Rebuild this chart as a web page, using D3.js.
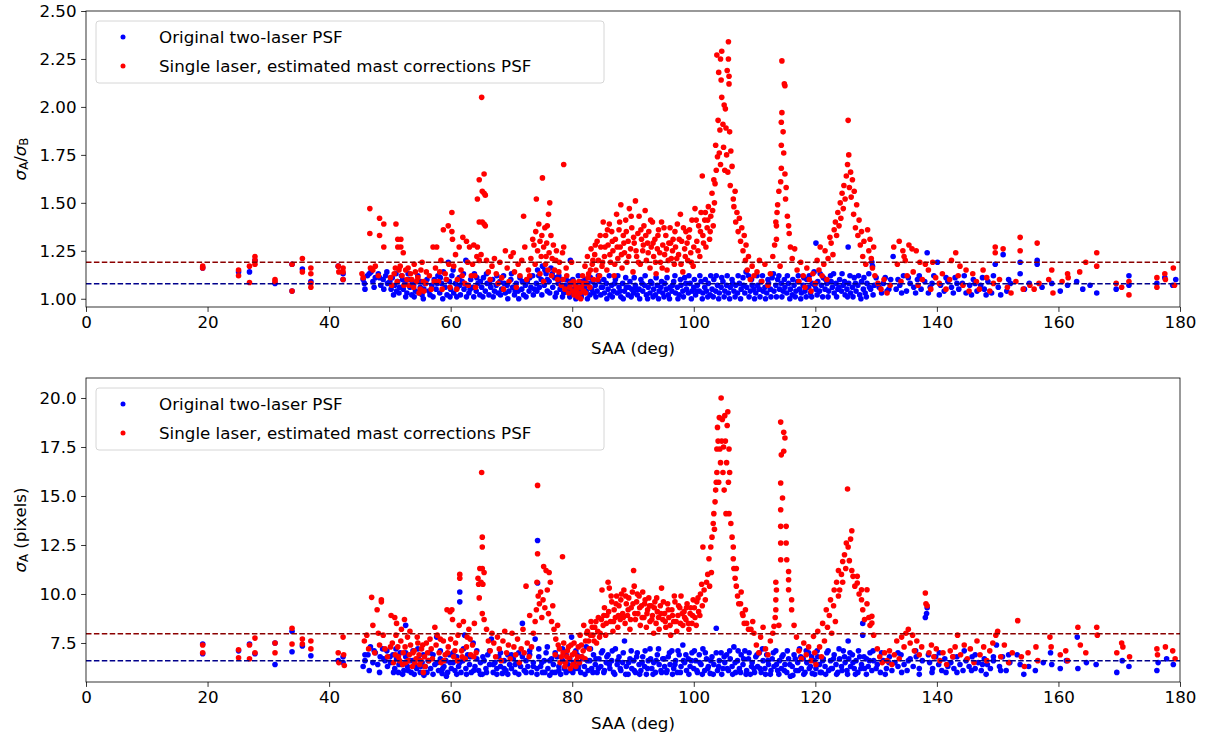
<!DOCTYPE html>
<html>
<head>
<meta charset="utf-8">
<script src="https://cdn.jsdelivr.net/npm/d3@7"></script>
<style>
  body { margin: 0; background: #fff; }
  text { font-family: "DejaVu Sans", sans-serif; fill: #000; }
</style>
</head>
<body>
<div id="chart"></div>
<script>
// [SAA, sigma_A/sigma_B] for the original two-laser PSF
var ratioOrig = [
  [19.2,1.16],[25.1,1.14],[26.9,1.14],[27.8,1.20],[31.1,1.08],[33.9,1.18],[33.9,1.04],[35.6,1.155],[37.0,1.09],[41.5,1.17],[42.3,1.13],[42.3,1.10],
  [45.6,1.10],[45.8,1.08],[46.3,1.12],[46.9,1.14],[47.2,1.09],[47.6,1.11],[48.1,1.13],[48.5,1.07],[48.9,1.10],[49.3,1.12],[49.6,1.08],
  [45.9,1.05],[46.6,1.13],[47.4,1.06],[48.3,1.11],[49.0,1.05],[49.5,1.14],
  [50.2,1.05],[50.4,1.11],[50.8,1.07],[51.1,1.04],[51.3,1.09],[51.6,1.06],[51.9,1.12],[52.2,1.05],[52.5,1.08],[52.8,1.03],[53.1,1.10],[53.3,1.06],[53.6,1.02],[53.9,1.07],[54.2,1.04],[54.5,1.09],[54.8,1.03],[55.0,1.06],[55.3,1.02],[55.6,1.05],[55.8,1.08],
  [56.4,1.04],[56.9,1.07],[57.3,1.10],[57.6,1.05],[57.9,1.12],[58.2,1.03],[58.5,1.08],[58.8,1.14],[59.1,1.06],[59.4,1.02],[59.6,1.19],[59.8,1.09],[60.0,1.05],[60.2,1.12],
  [60.5,1.03],[60.8,1.08],[61.1,1.06],[61.4,1.11],[61.6,1.02],[61.9,1.09],[62.2,1.05],[62.5,1.20],[62.7,1.07],[63.0,1.03],[63.3,1.10],[63.6,1.06],[63.9,1.13],[64.2,1.04],[64.5,1.08],[64.8,1.02],[65.1,1.06],
  [65.4,1.11],[65.7,1.04],[66.0,1.08],[66.3,1.02],[66.6,1.06],[66.9,1.10],[67.2,1.04],[67.5,1.07],[67.8,1.03],[68.1,1.09],[68.4,1.05],[68.7,1.12],[69.0,1.03],[69.3,1.07],[69.6,1.04],[69.9,1.10],
  [70.2,1.06],[70.5,1.02],[70.8,1.08],[71.1,1.04],[71.4,1.11],[71.7,1.05],[72.0,1.02],[72.3,1.07],[72.6,1.09],[72.9,1.04],[73.2,1.06],[73.5,1.12],[73.8,1.05],[74.1,1.08],[74.3,1.15],[74.6,1.06],[74.9,1.10],[75.1,1.17],[75.4,1.07],[75.7,1.13],[75.9,1.04],[76.2,1.09],[76.5,1.16],[76.8,1.06],[77.1,1.11],
  [77.4,1.03],[77.7,1.08],[78.0,1.05],[78.3,1.10],[78.6,1.03],[78.9,1.07],[79.2,1.04],[79.5,1.09],[79.7,1.20],[79.9,1.05],
  [80.2,1.03],[80.5,1.07],[80.8,1.02],[81.1,1.05],[81.4,1.09],[81.7,1.03],[82.0,1.06],[82.3,1.04],[82.6,1.08],[82.9,1.02],[83.2,1.05],[83.5,1.03],[83.8,1.07],[84.1,1.04],[84.4,1.09],[84.7,1.02],[85.0,1.06],
  [85.3,1.03],[85.6,1.08],[85.9,1.05],[86.2,1.02],[86.5,1.07],[86.8,1.04],[87.1,1.10],[87.4,1.03],[87.7,1.06],[88.0,1.01],[88.3,1.08],[88.6,1.04],[88.9,1.06],[89.2,1.02],[89.5,1.09],[89.8,1.05],
  [90.1,1.03],[90.4,1.07],[90.7,1.02],[91.0,1.05],[91.3,1.10],[91.6,1.04],[91.9,1.07],[92.2,1.02],[92.5,1.06],[92.8,1.03],[93.1,1.08],[93.4,1.05],[93.7,1.02],[94.0,1.07],[94.3,1.04],[94.6,1.06],[94.9,1.03],
  [95.2,1.08],[95.5,1.05],[95.8,1.02],[96.1,1.06],[96.4,1.04],[96.7,1.09],[97.0,1.03],[97.3,1.06],[97.6,1.02],[97.9,1.07],[98.2,1.04],[98.5,1.11],[98.8,1.05],[99.1,1.03],[99.4,1.08],[99.7,1.04],
  [100.0,1.06],[100.3,1.02],[100.6,1.07],[100.9,1.04],[101.2,1.09],[101.5,1.03],[101.8,1.06],[102.1,1.04],[102.4,1.08],[102.7,1.02],[103.0,1.05],[103.3,1.10],[103.6,1.04],[103.9,1.07],[104.2,1.03],[104.5,1.06],[104.8,1.09],
  [105.1,1.04],[105.4,1.07],[105.7,1.03],[106.0,1.06],[106.3,1.10],[106.6,1.04],[106.9,1.07],[107.2,1.03],[107.5,1.08],[107.8,1.05],[108.1,1.11],[108.4,1.03],[108.7,1.06],[109.0,1.12],[109.3,1.04],[109.6,1.07],[109.9,1.05],
  [110.2,1.03],[110.5,1.07],[110.8,1.05],[111.1,1.09],[111.4,1.04],[111.7,1.06],[112.0,1.03],[112.3,1.08],[112.6,1.05],[112.9,1.11],[113.2,1.04],[113.5,1.07],[113.8,1.10],[114.1,1.05],[114.4,1.08],[114.7,1.04],
  [115.0,1.06],[115.3,1.03],[115.6,1.08],[115.9,1.05],[116.2,1.02],[116.5,1.07],[116.8,1.04],[117.1,1.09],[117.4,1.05],[117.7,1.03],[118.0,1.07],[118.3,1.04],[118.6,1.10],[118.9,1.06],[119.2,1.03],[119.5,1.08],[119.8,1.14],
  [120.1,1.05],[120.1,1.29],[120.4,1.09],[120.7,1.04],[121.0,1.07],[121.3,1.11],[121.6,1.05],[121.9,1.08],[122.2,1.04],[122.5,1.12],[122.8,1.06],[123.1,1.03],[123.4,1.08],[123.7,1.05],[124.0,1.10],[124.3,1.04],[124.6,1.07],[124.9,1.02],
  [125.2,1.05],[125.4,1.27],[125.5,1.08],[125.8,1.03],[126.1,1.06],[126.4,1.11],[126.7,1.04],[127.0,1.07],[127.3,1.02],[127.6,1.09],[127.9,1.05],[128.2,1.03],[128.5,1.08],[128.8,1.13],[129.1,1.05],[129.3,1.19],[129.4,1.17],[129.7,1.07],
  [50.0,1.09],[50.6,1.02],[51.0,1.13],[51.5,1.03],[52.1,1.10],[52.6,1.01],[53.0,1.13],[53.7,1.09],[54.0,1.01],[54.6,1.12],[55.1,1.09],[55.5,1.00],[56.1,1.10],[56.6,1.02],[57.1,1.01],[57.8,1.08],
  [58.3,1.11],[58.7,1.00],[59.3,1.10],[59.9,1.01],[60.4,1.15],[61.0,1.01],[61.5,1.07],[62.1,1.13],[62.6,1.01],[63.2,1.05],[63.8,1.01],[64.3,1.11],[64.9,1.09],[65.3,1.01],[65.9,1.13],[66.4,1.08],
  [67.0,1.01],[67.6,1.12],[68.2,1.02],[68.8,1.08],[69.4,1.00],[70.0,1.13],[70.6,1.04],[71.2,1.00],[71.8,1.09],[72.4,1.01],[73.0,1.11],[73.6,1.02],[74.2,1.04],[74.5,1.12],[75.0,1.02],[75.5,1.15],
  [75.9,1.10],[76.3,1.03],[76.7,1.13],[77.2,1.01],[77.8,1.12],[78.4,1.01],[79.0,1.10],[79.6,1.01],
  [80.1,1.10],[80.6,1.00],[81.0,1.12],[81.5,1.01],[82.1,1.10],[82.5,1.00],[83.0,1.11],[83.4,1.09],[83.9,1.01],[84.3,1.12],[84.8,1.06],[85.2,1.10],[85.7,1.00],[86.1,1.12],[86.6,1.01],[87.0,1.08],
  [87.5,1.12],[87.9,1.04],[88.4,1.00],[88.8,1.11],[89.3,1.06],[89.7,1.01],[90.2,1.11],[90.6,1.05],[91.1,1.00],[91.5,1.08],[92.0,1.12],[92.4,1.00],[92.9,1.09],[93.3,1.01],[93.8,1.11],[94.2,1.00],
  [94.7,1.09],[95.1,1.01],[95.6,1.11],[96.0,1.00],[96.5,1.07],[96.9,1.12],[97.4,1.00],[97.8,1.10],[98.3,1.01],[98.7,1.08],[99.2,1.12],[99.6,1.00],[100.1,1.10],[100.5,1.04],[101.0,1.12],[101.4,1.00],
  [101.9,1.10],[102.3,1.01],[102.8,1.12],[103.2,1.01],[103.7,1.12],[104.1,1.00],[104.6,1.11],[105.0,1.01],[105.5,1.12],[105.9,1.00],[106.4,1.08],[106.8,1.01],[107.3,1.12],[107.7,1.00],[108.2,1.07],
  [108.6,1.14],[109.1,1.01],[109.5,1.10],[110.0,1.00],[110.4,1.12],[110.9,1.01],[111.3,1.12],[111.8,1.00],[112.2,1.10],[112.7,1.01],[113.1,1.13],[113.6,1.01],[114.0,1.12],[114.5,1.01],[114.9,1.10],
  [115.4,1.12],[115.8,1.00],[116.3,1.10],[116.7,1.01],[117.2,1.12],[117.6,1.00],[118.1,1.11],[118.5,1.01],[119.0,1.12],[119.4,1.01],[119.9,1.07],[120.3,1.02],[120.8,1.13],[121.2,1.01],[121.7,1.10],
  [122.1,1.01],[122.6,1.09],[123.0,1.13],[123.5,1.01],[123.9,1.06],[124.4,1.13],[124.8,1.09],[125.3,1.01],[125.7,1.12],[126.2,1.01],[126.6,1.08],[127.1,1.12],[127.5,1.00],[128.0,1.11],[128.4,1.01],
  [128.9,1.06],[129.5,1.02],[130.0,1.11],
  [130.5,1.06],[131.2,1.08],[131.8,1.04],[132.4,1.10],[132.8,1.22],[133.3,1.05],[133.9,1.07],[134.5,1.12],[135.0,1.04],[135.6,1.08],[136.2,1.06],[136.8,1.10],[137.4,1.05],[138.0,1.09],[138.4,1.24],[138.9,1.06],[139.5,1.12],[140.1,1.19],
  [140.6,1.07],[141.2,1.04],[141.8,1.09],[142.4,1.06],[143.0,1.11],[143.6,1.05],[144.2,1.08],[144.8,1.03],[145.4,1.07],[146.0,1.10],[146.6,1.04],[147.2,1.07],[147.8,1.05],[148.4,1.09],[149.0,1.03],[149.6,1.18],[150.1,1.06],[150.9,1.23],
  [130.9,1.03],[131.5,1.11],[132.1,1.05],[133.6,1.10],[134.2,1.03],[135.3,1.11],[136.5,1.03],[137.1,1.12],[138.6,1.03],[139.2,1.08],[140.4,1.02],[141.5,1.11],[142.7,1.03],[143.3,1.08],[144.5,1.12],
  [145.7,1.02],[146.3,1.08],[147.5,1.11],[148.1,1.02],[149.3,1.12],[150.5,1.02],[151.8,1.10],
  [151.5,1.04],[152.1,1.08],[153.7,1.19],[153.7,1.13],[154.4,1.05],[155.2,1.08],[156.5,1.20],[156.5,1.18],[157.3,1.06],[158.9,1.08],[160.3,1.04],[161.5,1.07],[163.0,1.09],[164.0,1.05],[165.2,1.07],[166.3,1.03],
  [169.5,1.05],[171.6,1.12],[171.6,1.07],[176.2,1.08],[177.5,1.11],[178.8,1.07],[179.3,1.10]
];

// [SAA, sigma_A/sigma_B] for the single laser, estimated mast corrections PSF
var ratioSingle = [
  [19.2,1.17],[19.2,1.16],[25.1,1.15],[25.1,1.12],[26.9,1.17],[26.9,1.085],[27.8,1.22],[27.8,1.20],[27.8,1.18],[31.1,1.10],[31.1,1.09],[33.9,1.18],[33.9,1.04],
  [35.6,1.21],[35.6,1.14],[37.0,1.16],[37.0,1.13],[37.0,1.08],[37.0,1.06],[41.5,1.17],[41.6,1.14],[42.3,1.16],[42.3,1.14],[42.3,1.10],
  [46.7,1.47],[46.7,1.34],[48.3,1.42],[48.3,1.33],[49.0,1.39],[49.0,1.27],[51.0,1.39],[51.3,1.31],[51.8,1.31],[51.3,1.27],[51.8,1.27],[52.2,1.24],
  [45.4,1.13],[45.6,1.11],[46.8,1.16],[47.2,1.15],[47.6,1.17],[48.1,1.12],[50.1,1.11],[50.9,1.16],[51.7,1.17],[52.0,1.12],[52.6,1.15],[52.8,1.10],[53.1,1.07],
  [53.4,1.13],[53.9,1.06],[54.2,1.14],[54.4,1.09],[54.8,1.03],[55.0,1.05],[55.3,1.19],[55.6,1.04],[55.9,1.08],
  [50.3,1.07],[50.7,1.13],[51.2,1.09],[51.5,1.15],[52.3,1.07],[53.0,1.16],[53.6,1.10],[54.0,1.18],[54.6,1.11],[55.1,1.15],[55.5,1.09],[56.0,1.14],[56.8,1.05],[57.3,1.09],[58.2,1.14],
  [58.6,1.05],[59.3,1.10],[59.7,1.18],[61.0,1.05],[61.9,1.12],[62.9,1.07],[63.6,1.18],[64.0,1.12],
  [56.5,1.12],[57.1,1.27],[57.5,1.16],[57.7,1.27],[58.0,1.09],[58.4,1.20],[58.8,1.36],[59.1,1.13],[59.6,1.38],[59.9,1.06],[60.2,1.45],[60.2,1.35],[60.3,1.31],
  [60.5,1.17],[60.8,1.23],[61.1,1.10],[61.4,1.27],[61.7,1.15],[62.0,1.32],[62.3,1.08],[62.6,1.30],[62.8,1.19],[63.1,1.27],[63.4,1.12],[63.8,1.28],[64.1,1.06],[64.4,1.52],[64.3,1.22],[64.7,1.20],
  [64.7,1.62],[65.5,1.65],[65.1,2.05],[65.2,1.56],[65.7,1.54],[65.5,1.55],[64.7,1.40],[65.2,1.40],[65.7,1.38],[65.5,1.39],[64.4,1.27],[65.0,1.23],[65.9,1.20],[66.2,1.14],[66.5,1.10],[66.8,1.17],
  [67.2,1.21],[67.5,1.13],[67.8,1.08],[68.1,1.19],[68.4,1.11],[68.7,1.05],[69.0,1.25],[69.3,1.16],[69.6,1.09],[69.9,1.22],[70.3,1.24],[70.5,1.14],[70.8,1.06],[71.1,1.18],[71.4,1.12],[71.7,1.20],
  [72.0,1.43],[72.2,1.27],[72.5,1.10],[72.8,1.15],
  [73.2,1.21],[73.5,1.31],[73.7,1.28],[74.0,1.35],[74.1,1.52],[74.3,1.25],[74.5,1.39],[74.7,1.30],[74.9,1.22],[75.1,1.63],[75.0,1.33],[75.3,1.27],[75.5,1.37],[75.6,1.18],[75.9,1.38],[75.8,1.29],
  [76.1,1.44],[76.3,1.50],[76.2,1.24],[76.5,1.33],[76.7,1.21],[76.9,1.28],[77.1,1.15],[77.4,1.25],[77.6,1.10],[77.9,1.19],[78.2,1.07],[78.4,1.24],[78.6,1.70],[78.6,1.27],[78.8,1.05],[79.1,1.12],
  [79.4,1.03],[79.7,1.08],[79.9,1.19],
  [73.0,1.12],[73.9,1.18],[74.7,1.13],[75.3,1.09],[75.7,1.22],[76.0,1.15],[76.6,1.12],[77.3,1.20],[77.8,1.14],[78.5,1.10],[79.0,1.16],[79.6,1.06],
  [80.1,1.04],[80.3,1.02],[80.5,1.07],[80.7,1.05],[80.9,1.01],[81.1,1.09],[81.3,1.03],[81.5,1.06],[81.7,1.12],[81.9,1.04],[82.1,1.17],[82.3,1.08],[82.5,1.22],[82.7,1.13],[82.9,1.06],[83.1,1.26],
  [83.3,1.18],[83.5,1.10],[83.7,1.23],[83.9,1.15],[84.1,1.30],[84.3,1.20],[84.5,1.12],[84.7,1.27],[84.9,1.17],
  [80.2,1.09],[80.6,1.03],[81.0,1.06],[81.4,1.00],[81.8,1.08],[82.2,1.03],[82.6,1.11],[83.0,1.15],[83.4,1.20],[83.8,1.28],[84.2,1.10],[84.6,1.33],[85.0,1.19],[85.4,1.27],[85.8,1.36],[86.2,1.23],
  [86.6,1.30],[87.0,1.18],[87.4,1.27],[87.8,1.40],[88.1,1.23],[88.5,1.29],[88.9,1.35],[89.3,1.22],[89.7,1.43],[90.1,1.32],[90.5,1.25],[90.9,1.19],[91.3,1.36],[91.7,1.28],[92.1,1.33],[92.5,1.24],
  [92.9,1.41],[93.3,1.29],[93.7,1.19],[94.1,1.33],[94.4,1.24],[94.8,1.16],[95.1,1.37],[95.5,1.26],[95.8,1.20],[96.2,1.29],[96.5,1.25],[96.9,1.35],[97.2,1.21],[97.6,1.31],[97.9,1.18],[98.3,1.37],
  [98.6,1.22],[98.9,1.29],[99.3,1.36],[99.6,1.19],[100.0,1.27],[100.4,1.41],[100.7,1.25],[101.1,1.35],[101.6,1.29],[101.9,1.45],[102.3,1.41],[102.7,1.35],[103.1,1.46],[103.3,1.62],
  [85.1,1.40],[85.3,1.22],[85.5,1.33],[85.7,1.15],[85.9,1.28],[86.1,1.39],[86.3,1.19],[86.5,1.35],[86.7,1.25],[86.9,1.12],[87.1,1.31],[87.3,1.44],[87.5,1.21],[87.7,1.36],[87.9,1.27],[88.0,1.49],
  [88.2,1.16],[88.4,1.33],[88.6,1.24],[88.8,1.41],[89.0,1.19],[89.2,1.30],[89.4,1.47],[89.6,1.26],[89.8,1.37],[90.0,1.14],[90.2,1.29],[90.4,1.51],[90.6,1.22],[90.8,1.34],[91.0,1.43],[91.2,1.18],
  [91.4,1.31],[91.6,1.25],[91.8,1.38],[92.0,1.46],[92.2,1.20],[92.4,1.29],[92.6,1.35],[92.8,1.16],[93.0,1.27],[93.2,1.40],[93.4,1.22],[93.6,1.31],[93.8,1.13],[94.0,1.26],[94.2,1.36],[94.5,1.19],
  [94.7,1.40],[94.9,1.28],[95.2,1.23],[95.4,1.33],[95.6,1.15],[95.9,1.29],[96.1,1.37],[96.3,1.21],[96.6,1.31],[96.8,1.18],[97.0,1.27],[97.3,1.39],[97.5,1.23],[97.8,1.44],[98.0,1.30],[98.2,1.14],
  [98.5,1.26],[98.7,1.35],[99.0,1.20],[99.2,1.32],[99.5,1.24],[99.7,1.41],[99.9,1.17],
  [100.2,1.47],[100.5,1.30],[100.8,1.38],[101.0,1.22],[101.2,1.45],[101.4,1.64],[101.5,1.33],[101.8,1.41],[102.0,1.27],[102.2,1.37],[102.4,1.48],[102.6,1.31],[102.8,1.43],[103.0,1.55],[103.2,1.38],
  [103.4,1.50],[103.5,1.60],[103.6,1.80],[103.7,1.67],[103.8,2.27],[103.9,1.74],[104.0,1.93],[104.1,2.18],[104.2,1.76],[104.3,1.88],[104.4,1.70],[104.4,2.25],[104.5,2.14],[104.6,2.29],[104.6,2.05],
  [104.8,1.91],[104.9,1.79],[105.0,2.01],[105.1,1.67],[105.2,1.99],[105.3,1.89],[105.4,1.75],[105.5,2.19],[105.6,1.66],[105.7,2.34],[105.7,2.25],[105.8,2.16],[105.8,2.12],[105.9,1.87],[106.0,1.59],
  [106.1,1.77],[106.3,1.69],[106.5,1.52],[106.6,1.48],[106.8,1.56],[106.9,1.40],[107.1,1.45],[107.3,1.35],[107.5,1.42],[107.7,1.30],[107.9,1.37],[108.1,1.25],[108.3,1.33],[108.5,1.20],[108.6,1.28],
  [108.8,1.15],[109.0,1.22],[109.3,1.10],[109.6,1.17],[109.9,1.12],
  [110.4,1.14],[110.8,1.20],[111.2,1.09],[111.7,1.18],[112.2,1.07],[112.6,1.13],[113.0,1.22],[113.3,1.28],[113.5,1.40],[113.6,1.38],[113.6,1.31],[113.7,1.45],[113.8,1.49],[114.0,1.56],[114.2,1.17],
  [114.3,1.61],[114.4,1.68],[114.4,1.80],[114.4,1.92],[114.5,1.97],[114.5,2.24],[114.7,1.87],[114.8,1.76],[114.9,2.12],[115.0,2.11],[115.0,1.65],[115.1,1.52],[115.2,1.58],[115.4,1.43],[115.6,1.38],
  [115.7,1.34],[115.9,1.27],[116.2,1.21],[116.6,1.26],[117.0,1.15],[117.3,1.09],[117.6,1.19],[118.0,1.12],[118.3,1.06],[118.6,1.16],[119.0,1.10],[119.3,1.04],[119.6,1.13],
  [120.0,1.08],[120.3,1.20],[120.6,1.15],[120.8,1.27],[121.1,1.12],[121.4,1.18],[121.6,1.25],[121.9,1.10],[122.1,1.21],[122.4,1.32],[122.6,1.29],[122.9,1.23],[123.1,1.36],[123.3,1.40],[123.5,1.33],
  [123.7,1.45],[123.9,1.38],[124.1,1.50],[124.2,1.42],[124.4,1.55],[124.6,1.47],[124.7,1.59],[124.9,1.52],[125.1,1.64],[125.3,1.70],[125.4,1.93],[125.5,1.75],[125.6,1.58],[125.8,1.66],[125.9,1.53],
  [126.1,1.62],[126.3,1.44],[126.4,1.56],[126.6,1.37],[126.8,1.49],[127.0,1.33],[127.2,1.41],[127.4,1.28],[127.6,1.35],[127.8,1.22],[128.0,1.30],[128.3,1.18],[128.6,1.36],[128.8,1.25],[129.0,1.31],
  [129.2,1.21],[129.4,1.16],[129.6,1.27],[129.8,1.12],
  [130.3,1.08],[130.8,1.05],[131.3,1.10],[131.8,1.03],[132.3,1.07],[132.9,1.27],[133.5,1.18],[133.8,1.30],[134.1,1.09],[134.4,1.25],[134.6,1.22],[134.8,1.20],[135.1,1.12],[135.4,1.28],[135.9,1.26],
  [136.1,1.14],[136.6,1.25],[136.9,1.07],[137.2,1.19],[137.6,1.10],[138.1,1.18],[138.6,1.15],[139.0,1.05],[139.3,1.19],[139.8,1.11],[140.4,1.08],[140.9,1.13],[141.5,1.05],[142.1,1.10],[142.4,1.20],
  [143.1,1.24],[143.5,1.12],[143.8,1.17],[144.3,1.07],[144.8,1.15],[145.3,1.04],[145.9,1.13],[146.5,1.09],[147.0,1.05],[147.6,1.15],[148.2,1.11],[148.7,1.04],[149.3,1.08],[149.6,1.27],[149.6,1.24],
  [150.3,1.10],[150.9,1.26],[151.6,1.06],[152.2,1.03],[153.0,1.09],[153.7,1.32],[153.7,1.25],[154.2,1.05],[155.3,1.07],[156.0,1.05],[156.5,1.29],[156.8,1.08],[158.4,1.10],[158.9,1.15],[159.1,1.03],
  [160.6,1.09],[161.5,1.13],[161.6,1.11],[163.5,1.14],[164.5,1.19],[166.3,1.24],[166.3,1.17],[169.5,1.08],[170.4,1.06],[171.6,1.09],[171.6,1.02],[176.2,1.11],[176.2,1.06],[177.5,1.13],[177.6,1.10],
  [178.9,1.16],[179.1,1.07]
];

// [SAA, sigma_A in pixels] for the original two-laser PSF
var sigmaOrig = [
  [19.2,7.45],[19.2,6.95],[25.1,7.1],[26.9,7.45],[27.8,6.95],[31.1,6.4],[31.1,7.5],[33.9,8.1],[33.9,7.05],[35.6,7.35],[37.0,6.85],[41.5,6.6],[42.3,6.8],[42.3,6.5],
  [45.6,6.3],[45.9,6.6],[46.4,6.9],[46.8,7.3],[47.2,6.5],[47.6,7.0],[48.0,6.4],[48.4,6.8],[48.8,7.2],[49.2,6.6],[49.6,6.3],
  [45.9,6.9],[46.6,6.1],[47.4,7.1],[48.3,6.0],[49.0,6.7],[49.5,7.1],
  [50.1,6.5],[50.5,6.9],[50.8,6.2],[51.1,6.7],[51.4,6.0],[51.7,7.0],[52.0,6.4],[52.3,6.1],[52.6,8.4],[52.6,6.8],[52.9,6.3],[53.2,6.6],[53.5,6.0],[53.8,7.1],[54.1,6.4],[54.4,6.2],[54.7,6.7],
  [55.0,6.0],[55.3,6.5],[55.6,5.85],[55.8,6.3],
  [56.3,6.6],[56.7,6.2],[57.1,6.9],[57.4,6.4],[57.7,7.8],[58.0,6.1],[58.3,6.7],[58.6,5.95],[58.9,6.3],[59.2,6.6],[59.5,6.0],[59.8,6.9],[60.1,6.2],
  [60.4,6.5],[60.7,6.1],[61.0,6.8],[61.3,6.3],[61.5,10.1],[61.5,9.6],[61.7,6.0],[62.0,6.6],[62.3,7.9],[62.5,6.2],[62.8,6.9],[63.1,6.4],[63.4,6.0],[63.7,7.5],[64.0,6.3],[64.3,6.7],[64.6,6.1],[64.9,6.5],
  [65.2,5.9],[65.5,6.6],[65.8,6.2],[66.1,6.9],[66.4,6.4],[66.7,7.7],[67.0,6.0],[67.3,6.5],[67.6,6.2],[67.9,6.8],[68.2,6.3],[68.5,5.95],[68.8,6.6],[69.1,6.1],[69.4,6.9],[69.7,6.4],
  [70.0,6.2],[70.3,6.7],[70.6,6.0],[70.9,6.5],[71.2,7.0],[71.5,6.3],[71.8,8.5],[72.1,6.1],[72.4,6.6],[72.7,6.3],[73.0,6.9],[73.3,6.0],[73.6,6.5],[73.9,7.7],[74.2,6.2],[74.3,12.73],[74.3,10.56],
  [74.5,6.8],[74.8,6.3],[75.1,6.0],[75.4,6.6],[75.7,7.0],[76.0,6.2],[76.3,5.85],[76.6,6.7],
  [76.9,6.4],[77.2,6.0],[77.5,6.8],[77.8,6.3],[78.1,5.9],[78.4,6.6],[78.7,6.2],[79.0,6.9],[79.3,6.4],[79.6,6.1],[79.9,7.8],
  [80.2,6.5],[80.5,6.2],[80.8,6.9],[81.1,6.4],[81.4,6.0],[81.7,6.7],[82.0,6.3],[82.3,7.3],[82.6,6.1],[82.9,6.6],[83.2,6.2],[83.5,6.9],[83.8,6.4],[84.1,6.0],[84.4,6.7],[84.7,6.3],[85.0,7.1],
  [85.3,6.1],[85.6,6.5],[85.9,6.9],[86.2,6.2],[86.5,6.6],[86.8,6.0],[87.1,7.2],[87.4,6.4],[87.7,6.8],[88.0,6.1],[88.3,6.5],[88.6,7.6],[88.9,6.3],[89.2,5.9],[89.5,6.7],[89.8,6.2],
  [90.1,6.6],[90.4,6.0],[90.7,7.0],[91.0,6.4],[91.3,6.1],[91.6,6.8],[91.9,6.3],[92.2,5.9],[92.5,6.6],[92.8,7.2],[93.1,6.2],[93.4,6.5],[93.7,6.0],[94.0,6.9],[94.3,6.4],[94.6,6.1],[94.9,6.7],
  [95.2,6.3],[95.5,6.0],[95.8,6.8],[96.1,6.4],[96.4,7.1],[96.7,6.2],[97.0,6.6],[97.3,6.0],[97.6,6.9],[97.9,6.3],[98.2,7.4],[98.5,6.5],[98.8,6.1],[99.1,6.7],[99.4,6.3],[99.7,7.0],
  [100.0,6.2],[100.3,6.6],[100.6,6.0],[100.9,6.9],[101.2,6.4],[101.5,7.2],[101.8,6.1],[102.1,6.7],[102.4,6.3],[102.7,5.95],[103.0,6.8],[103.3,6.4],[103.7,8.25],[103.9,6.1],[104.2,6.6],[104.5,7.0],[104.8,6.2],
  [105.1,6.5],[105.4,6.9],[105.7,6.1],[106.0,6.7],[106.3,6.3],[106.6,7.3],[106.9,6.0],[107.2,6.6],[107.5,6.2],[107.8,6.9],[108.1,6.4],[108.4,7.1],[108.7,6.1],[109.0,6.7],[109.3,5.9],[109.6,6.5],[109.9,6.2],
  [110.2,6.8],[110.5,6.3],[110.8,7.0],[111.1,6.0],[111.4,6.6],[111.7,6.2],[112.0,6.9],[112.3,6.4],[112.6,5.9],[112.9,6.7],[113.2,6.3],[113.5,7.1],[113.8,6.1],[114.1,6.6],[114.4,6.2],[114.7,6.9],
  [115.0,6.4],[115.3,6.0],[115.6,6.7],[115.9,5.8],[116.2,6.3],[116.5,6.9],[116.8,6.1],[117.1,6.5],[117.4,7.2],[117.7,6.2],[118.0,6.7],[118.3,6.0],[118.6,6.5],[118.9,7.0],[119.2,6.3],[119.5,5.95],[119.8,6.6],
  [120.1,6.2],[120.4,6.8],[120.7,6.4],[121.0,6.0],[121.3,6.7],[121.6,6.3],[121.9,7.0],[122.2,6.1],[122.5,6.6],[122.8,6.2],[123.1,6.9],[123.4,6.4],[123.7,6.0],[124.0,6.7],[124.3,6.3],[124.6,7.1],[124.9,6.5],
  [125.2,6.1],[125.4,7.6],[125.5,6.7],[125.8,6.3],[126.1,6.9],[126.4,6.2],[126.7,6.6],[127.0,6.0],[127.3,6.8],[127.6,6.4],[127.8,8.5],[127.8,7.9],[128.1,6.2],[128.4,6.7],[128.7,6.3],[129.0,7.0],[129.3,6.1],[129.6,6.6],
  [50.0,6.8],[50.6,6.0],[51.0,7.2],[51.5,6.4],[52.1,5.9],[52.6,7.0],[53.0,6.1],[53.7,6.6],[54.0,5.9],[54.6,7.2],[55.1,6.3],[55.5,6.9],[56.1,6.0],[56.6,7.0],[57.1,5.9],[57.8,6.5],[58.3,7.1],
  [58.7,6.2],[59.3,5.8],[59.9,6.5],[60.4,7.0],[61.0,5.9],[61.5,6.5],[62.1,7.2],[62.6,5.9],[63.2,6.8],[63.8,6.1],[64.3,7.1],[64.9,5.9],[65.3,6.8],[65.9,6.0],[66.4,7.1],[67.0,6.4],[67.6,5.9],
  [68.2,7.0],[68.8,6.2],[69.4,5.9],[70.0,6.9],[70.6,6.4],[71.2,5.9],[71.8,6.8],[72.4,6.0],[73.0,7.1],[73.6,6.3],[74.2,5.9],[74.5,7.2],[75.0,6.5],[75.5,6.0],[75.9,7.3],[76.3,6.6],[76.7,6.0],
  [77.2,7.0],[77.8,6.1],[78.4,7.2],[79.0,6.0],[79.6,6.7],
  [80.1,6.0],[80.6,7.1],[81.0,6.2],[81.5,6.8],[82.1,5.9],[82.5,6.6],[83.0,7.2],[83.4,6.0],[83.9,6.7],[84.3,6.2],[84.8,7.0],[85.2,6.0],[85.7,6.8],[86.1,6.4],[86.6,7.1],[87.0,5.9],[87.5,6.6],
  [87.9,6.2],[88.4,7.0],[88.8,5.9],[89.3,6.5],[89.7,7.1],[90.2,6.1],[90.6,6.8],[91.1,5.9],[91.5,6.5],[92.0,7.1],[92.4,6.2],[92.9,6.7],[93.3,5.9],[93.8,6.6],[94.2,7.2],[94.7,6.0],[95.1,6.7],
  [95.6,6.1],[96.0,7.0],[96.5,5.9],[96.9,6.4],[97.4,7.1],[97.8,6.0],[98.3,6.6],[98.7,6.9],[99.2,5.9],[99.6,6.6],[100.1,7.1],[100.5,6.1],[101.0,6.5],[101.4,5.9],[101.9,7.0],[102.3,6.2],[102.8,6.6],
  [103.2,5.9],[103.7,7.0],[104.1,6.3],[104.6,5.9],[105.0,6.8],[105.5,6.2],[105.9,7.1],[106.4,5.9],[106.8,6.5],[107.3,7.1],[107.7,6.0],[108.2,6.7],[108.6,5.9],[109.1,7.0],[109.5,6.3],[110.0,6.0],
  [110.4,6.9],[110.9,6.2],[111.3,7.2],[111.8,5.9],[112.2,6.6],[112.7,6.1],[113.1,7.0],[113.6,6.4],[114.0,5.9],[114.5,6.8],[114.9,6.1],[115.4,7.1],[115.8,6.4],[116.3,5.85],[116.7,6.7],[117.2,6.1],
  [117.6,6.8],[118.1,5.9],[118.5,7.1],[119.0,6.2],[119.4,6.8],[119.9,5.9],[120.3,7.1],[120.8,6.0],[121.2,6.6],[121.7,5.9],[122.1,7.1],[122.6,6.2],[123.0,6.7],[123.5,5.9],[123.9,7.2],[124.4,6.1],
  [124.8,6.8],[125.3,5.9],[125.7,7.0],[126.2,6.5],[126.6,5.9],[127.1,7.1],[127.5,6.2],[128.0,6.8],[128.4,5.9],[128.9,6.6],[129.5,7.1],[130.0,6.2],
  [130.2,6.4],[130.7,6.0],[131.2,6.6],[131.7,6.2],[132.2,6.8],[132.6,6.1],[133.1,6.5],[133.6,6.3],[134.1,6.9],[134.6,6.4],[135.1,6.1],[135.6,6.7],[136.1,6.3],[136.6,6.8],[137.1,6.2],[137.6,6.6],
  [130.9,7.0],[131.5,5.9],[132.1,6.5],[133.6,7.0],[134.2,6.0],[135.3,6.6],[136.5,7.1],[137.1,5.9],[138.6,6.9],[139.2,6.0],[140.4,7.0],[141.5,6.0],[142.7,6.8],[143.3,6.0],[144.5,7.1],[145.7,6.1],
  [146.3,6.9],[147.5,6.4],[148.1,5.9],[149.3,6.8],[150.5,6.1],[151.8,6.9],
  [138.1,8.8],[138.3,9.0],[138.4,9.3],[138.8,6.5],[139.3,6.2],[139.8,6.8],[140.3,6.4],[140.8,6.1],[141.3,6.7],[141.8,6.3],[142.3,6.5],[142.8,6.2],[143.3,6.8],[143.8,6.4],[144.3,6.1],[144.8,6.6],
  [145.3,6.3],[145.8,6.8],[146.3,6.2],[146.8,6.5],[147.3,6.1],[147.8,6.7],[148.3,6.4],[148.8,6.2],[149.3,6.6],[149.8,7.4],[150.3,6.3],[150.8,6.8],[151.4,6.1],[152.0,6.5],[153.2,6.9],[153.7,6.4],
  [154.3,5.9],[155.1,6.3],[156.2,6.1],[157.5,6.5],[158.7,7.0],[158.9,6.4],[160.3,6.2],[161.3,6.6],[163.1,7.8],[163.2,6.2],[164.6,6.5],[166.2,6.4],[169.6,6.0],[170.5,6.6],[171.6,6.3],[176.2,6.1],
  [176.4,6.5],[177.8,6.7],[178.9,6.4]
];

// [SAA, sigma_A in pixels] for the single laser, estimated mast corrections PSF
var sigmaSingle = [
  [19.2,7.4],[19.2,7.0],[25.1,7.15],[25.1,6.75],[26.9,7.4],[26.9,6.7],[27.8,7.75],[27.8,7.0],[31.1,7.5],[31.1,7.0],[33.9,8.25],[33.9,7.45],[35.6,7.7],[35.6,7.45],[37.0,7.6],[37.0,7.2],
  [41.5,7.0],[41.6,6.5],[42.3,7.8],[42.4,6.9],[42.5,6.35],
  [45.8,7.6],[46.2,7.9],[46.5,7.2],[47.0,9.83],[47.2,8.4],[47.5,7.0],[47.9,9.2],[48.1,8.0],[48.3,7.4],[48.6,9.7],[48.6,9.6],[48.9,7.9],[49.2,7.2],[49.6,6.8],[50.2,8.9],[50.4,7.5],[50.8,8.8],
  [50.9,6.9],[51.1,8.5],[51.3,7.3],[51.6,6.6],[51.9,8.2],[52.2,7.0],[52.4,8.7],[52.6,6.5],[52.9,7.8],[53.2,6.9],[53.4,7.4],[53.7,6.3],[54.0,7.1],[54.3,6.7],[54.6,7.5],[54.9,6.4],[55.2,7.2],
  [55.5,6.0],[55.7,6.8],[56.0,7.5],[56.4,6.6],[56.8,7.2],
  [50.1,7.3],[50.6,6.5],[51.0,7.9],[51.4,6.8],[51.8,7.6],[52.1,6.4],[52.5,7.3],[53.0,6.6],[53.3,8.1],[53.8,7.0],[54.1,6.5],[54.5,7.8],[54.8,6.9],[55.1,6.6],[55.4,7.4],[55.8,6.3],
  [56.2,7.0],[56.6,7.7],[57.0,6.7],[57.6,7.4],[58.3,7.7],[58.9,6.6],[59.5,7.0],[60.0,7.7],[60.7,7.1],[61.2,7.9],[61.9,6.8],[62.6,7.3],[63.2,7.7],[63.8,6.8],
  [57.4,8.3],[57.8,7.9],[58.1,7.0],[58.4,6.5],[58.8,7.6],[59.1,6.9],[59.4,9.2],[59.6,7.3],[59.9,9.1],[60.2,9.2],[60.3,8.7],[60.5,6.8],[60.8,7.5],[61.1,6.6],[61.4,8.4],[61.5,11.0],[61.5,10.8],
  [61.8,7.1],[62.1,8.6],[62.4,6.7],[62.7,7.8],[63.0,8.2],[63.3,6.9],[63.6,7.4],[63.9,8.5],[64.2,7.0],[64.5,10.8],
  [65.1,16.2],[65.2,12.9],[65.2,12.4],[64.8,11.3],[65.2,11.3],[65.5,11.1],[64.6,10.5],[65.0,10.6],[65.3,10.5],[64.7,9.8],[65.2,9.0],[65.5,8.7],[65.9,8.2],[66.2,7.6],[66.5,7.1],[66.8,8.0],
  [67.1,7.5],[67.4,6.8],[67.7,7.8],[68.0,7.2],[68.3,6.6],[68.6,7.6],[68.9,8.1],[69.2,7.0],[69.5,7.4],[69.8,6.7],[70.1,8.0],[70.4,7.3],[70.7,6.9],[71.0,7.7],[71.3,6.5],[71.6,7.2],[71.9,8.2],
  [72.1,7.0],[72.4,10.4],[72.6,7.5],[72.9,6.8],[73.0,8.9],
  [73.3,7.3],[73.6,8.0],[73.9,8.6],[74.1,9.2],[74.2,10.6],[74.3,15.54],[74.3,12.05],[74.4,9.9],[74.6,9.5],[74.8,10.1],[75.0,8.8],[75.2,9.7],[75.3,11.4],[75.5,9.3],[75.7,11.2],[75.9,10.2],
  [76.1,9.0],[76.2,11.1],[76.4,10.6],[76.6,8.6],[76.8,9.4],[77.0,8.2],[77.3,7.7],[77.6,8.4],[77.9,7.2],[78.2,6.8],[78.4,11.9],[78.6,7.5],[78.9,6.5],[79.2,7.1],[79.5,6.7],[79.8,7.4],
  [77.2,6.9],[77.7,7.4],[78.0,6.5],[78.5,7.0],[78.8,6.3],[79.1,6.8],[79.4,7.3],[79.7,6.2],[80.0,6.9],[80.3,7.5],[80.6,6.3],[80.9,6.8],[81.2,6.5],[81.5,7.4],[81.8,7.1],[82.1,6.7],
  [82.4,8.0],[82.7,7.6],[83.0,7.9],[83.3,8.3],[83.6,7.6],[83.9,8.6],[84.2,8.1],[84.5,7.8],[84.8,8.7],
  [80.1,6.4],[80.4,7.0],[80.7,6.6],[81.0,7.3],[81.3,7.9],[81.6,6.8],[81.9,8.4],[82.2,7.6],[82.5,8.1],[82.8,7.2],[83.1,8.6],[83.4,7.9],[83.7,8.3],[84.0,7.5],[84.3,8.8],[84.6,8.0],[84.9,10.2],
  [85.1,8.4],[85.3,9.3],[85.5,7.9],[85.7,8.9],[85.9,10.6],[86.1,10.3],[86.3,8.6],[86.5,9.6],[86.7,8.1],[86.9,9.2],[87.1,8.8],[87.3,9.9],[87.5,8.3],[87.7,9.4],[87.9,8.7],[88.1,10.0],
  [88.3,9.0],[88.5,10.2],[88.7,8.5],[88.9,9.5],[89.1,8.9],[89.3,9.8],[89.5,8.2],[89.7,9.3],[89.9,10.1],[90.1,11.2],[90.2,10.4],[90.4,8.7],[90.6,9.6],[90.8,9.0],[91.0,9.9],[91.2,8.4],
  [91.4,9.4],[91.6,10.1],[91.8,8.8],[92.0,9.7],[92.2,8.3],[92.4,9.2],[92.6,9.8],[92.8,8.6],[93.0,9.4],[93.2,8.9],[93.4,8.0],[93.6,9.6],[93.8,8.5],[94.0,9.1],[94.3,8.2],[94.5,9.4],
  [94.7,10.3],[94.9,8.7],[95.2,9.0],[95.4,8.3],[95.7,9.5],[95.9,8.8],[96.2,7.9],[96.4,9.2],[96.7,8.6],[96.9,9.6],[97.2,8.1],[97.4,8.9],[97.7,9.3],[97.9,9.9],[98.2,8.4],[98.4,9.1],
  [98.7,8.7],[98.9,9.5],[99.2,8.2],[99.4,9.0],[99.7,8.5],[99.9,9.7],
  [85.2,8.9],[85.6,8.5],[86.0,9.1],[86.4,9.9],[86.8,8.6],[87.2,9.5],[87.6,8.9],[88.0,9.7],[88.4,8.8],[88.8,9.9],[89.2,9.2],[89.6,8.7],[90.0,9.5],[90.3,9.0],[90.7,10.0],[91.1,9.3],
  [91.5,8.8],[91.9,9.5],[92.3,9.0],[92.7,9.4],[93.1,8.7],[93.5,9.3],[93.9,9.8],[94.2,8.8],[94.6,9.0],[95.0,9.6],[95.3,8.6],[95.8,9.2],[96.1,8.4],[96.5,8.9],[96.8,9.9],[97.1,8.6],
  [97.5,9.4],[97.8,8.5],[98.1,9.0],[98.5,8.8],[98.8,9.3],[99.1,8.5],[99.5,9.3],[99.8,8.9],[100.1,9.3],[100.4,8.4],[100.7,9.8],[101.0,8.9],[101.3,10.5],
  [100.2,8.8],[100.5,9.6],[100.8,9.1],[101.1,10.0],[101.4,9.4],[101.5,12.4],[101.7,10.2],[101.9,9.7],[102.1,10.6],[102.3,11.0],[102.5,11.8],[102.6,10.4],[102.8,12.4],[102.9,11.1],[103.0,12.9],
  [103.2,13.6],[103.3,14.1],[103.4,13.3],[103.5,14.7],[103.6,15.3],[103.7,15.7],[103.8,16.2],[103.8,17.4],[103.9,18.5],[104.0,17.8],[104.1,15.7],[104.2,19.0],[104.3,17.4],[104.4,16.7],
  [104.5,20.0],[104.6,17.8],[104.7,18.9],[104.8,16.2],[104.9,17.5],[105.0,15.3],[105.1,19.1],[105.2,17.8],[105.3,14.1],[105.4,16.7],[105.5,18.6],[105.6,19.3],[105.7,15.7],[105.8,17.4],
  [105.8,14.1],[105.9,16.2],[106.1,13.6],[106.3,12.9],[106.5,12.4],[106.5,11.8],[106.6,11.3],[106.8,10.8],[107.0,11.3],[107.0,10.4],[107.2,9.9],[107.4,9.5],[107.7,9.5],[107.8,10.1],
  [108.0,9.0],[108.1,8.9],[108.3,8.5],[108.5,9.2],[108.7,8.5],[109.0,8.2],[109.4,8.2],[109.7,8.6],[109.9,8.0],
  [110.3,7.4],[110.7,7.0],[111.0,7.8],[111.4,8.3],[111.8,7.2],[112.2,6.9],[112.6,7.6],[113.0,8.0],[113.2,8.35],[113.4,8.8],[113.5,9.2],[113.5,9.7],[113.6,10.2],[113.5,10.6],[114.0,8.4],
  [114.3,11.75],[114.3,12.6],[114.3,13.45],[114.3,14.3],[114.3,15.66],[114.3,18.77],[114.4,17.1],[114.6,14.9],[114.8,18.25],[114.8,17.28],[115.0,17.96],[115.2,13.45],[115.2,12.6],
  [115.3,11.75],[115.6,11.15],[115.6,10.73],[115.6,10.22],[116.1,9.71],[116.1,9.2],[116.5,8.4],[116.9,7.8],[117.3,7.1],[117.7,6.7],[118.1,7.5],[118.5,6.9],[118.9,7.3],[119.3,6.6],[119.7,7.84],
  [119.9,7.0],[120.1,6.4],[120.4,8.1],[120.7,7.3],[121.0,6.8],[121.2,8.5],[121.5,7.6],[121.8,9.2],[122.0,8.3],[122.3,8.9],[122.5,9.7],[122.7,8.0],[123.0,9.4],[123.1,10.2],[123.3,8.6],
  [123.5,10.6],[123.8,9.9],[123.8,11.2],[124.0,10.2],[124.3,11.0],[124.5,11.66],[124.5,10.6],[124.8,12.0],[125.0,11.3],[125.1,12.6],[125.3,15.36],[125.4,12.4],[125.6,11.7],[125.8,12.8],
  [126.0,13.23],[126.0,11.2],[126.2,10.9],[126.5,10.4],[126.9,10.56],[126.9,10.9],[127.2,10.0],[127.6,10.22],[127.6,9.71],[127.8,9.2],[128.1,8.7],[128.5,10.22],[128.5,9.5],[128.8,8.8],
  [129.0,8.4],[129.3,8.86],[129.3,8.52],[129.6,7.9],
  [130.2,7.2],[130.6,6.8],[131.0,6.5],[131.4,7.0],[131.8,6.6],[132.2,7.1],[132.6,6.4],[133.0,6.9],[133.4,7.6],[133.8,6.7],[134.2,7.8],[134.6,7.3],[134.9,8.0],[135.3,8.2],[135.6,7.5],[136.0,7.9],
  [136.3,7.1],[136.7,7.6],[137.1,6.9],[137.5,7.3],[138.1,10.05],[138.2,9.5],[138.4,9.4],[138.7,7.0],[139.1,7.4],[139.5,6.8],[139.9,7.2],[140.5,6.6],[141.0,7.0],[141.6,6.4],[142.2,7.1],
  [142.6,6.8],[143.0,7.3],[143.4,7.9],[143.9,6.9],[144.5,7.4],[145.0,6.7],[145.5,7.2],[146.1,6.5],[146.6,7.6],[147.1,6.9],[147.7,7.3],[148.2,6.6],[148.7,7.1],[149.2,7.5],[149.7,7.9],[150.0,8.1],
  [150.5,6.8],[151.1,7.4],[151.8,6.5],[152.4,7.0],[153.3,8.64],[153.9,6.8],[154.4,6.3],[155.0,7.0],[156.3,7.3],[156.6,6.6],[158.6,7.8],[158.8,7.3],[160.3,6.9],[161.2,7.1],[161.5,6.6],
  [163.2,8.3],[163.6,7.4],[164.5,7.0],[166.3,8.3],[166.4,7.9],[169.6,7.0],[170.4,7.5],[170.6,7.3],[171.7,6.8],[176.2,7.2],[176.3,6.9],[177.6,7.3],[178.8,7.1],[179.2,6.7]
];

// mean levels drawn as dashed lines
var ratioOrigMean = 1.078, ratioSingleMean = 1.19;
var sigmaOrigMean = 6.60, sigmaSingleMean = 7.97;

var saaTicks = [0, 20, 40, 60, 80, 100, 120, 140, 160, 180];
var ratioTicks = [1.00, 1.25, 1.50, 1.75, 2.00, 2.25, 2.50];
var sigmaTicks = [7.5, 10.0, 12.5, 15.0, 17.5, 20.0];
var legendLabels = ['Original two-laser PSF', 'Single laser, estimated mast corrections PSF'];

var width = 1206;
var height = 738;
var fontSize = 16.7;
var dotR = 2.8;

var svg = d3.select('#chart')
  .append('svg')
  .attr('width', width)
  .attr('height', height);

var x = d3.scaleLinear()
  .domain([0, 180])
  .range([86, 1180]);

function drawPanel(p) {
  var y = d3.scaleLinear()
    .domain(p.domain)
    .range([p.bottom, p.top]);

  var g = svg.append('g');

  // scatter, blue first then red on top
  g.selectAll('.orig')
    .data(p.orig)
    .enter().append('circle')
    .attr('cx', function(d) { return x(d[0]); })
    .attr('cy', function(d) { return y(d[1]); })
    .attr('r', dotR)
    .attr('fill', '#0000ff');

  g.selectAll('.single')
    .data(p.single)
    .enter().append('circle')
    .attr('cx', function(d) { return x(d[0]); })
    .attr('cy', function(d) { return y(d[1]); })
    .attr('r', dotR)
    .attr('fill', '#ff0000');

  // dashed mean lines
  g.append('line')
    .attr('x1', x(0)).attr('x2', x(180))
    .attr('y1', y(p.origMean)).attr('y2', y(p.origMean))
    .attr('stroke', '#00008b').attr('stroke-width', 1.5)
    .attr('stroke-dasharray', '5.5,2.4');

  g.append('line')
    .attr('x1', x(0)).attr('x2', x(180))
    .attr('y1', y(p.singleMean)).attr('y2', y(p.singleMean))
    .attr('stroke', '#8b0000').attr('stroke-width', 1.5)
    .attr('stroke-dasharray', '5.5,2.4');

  // axes
  var xAxis = g.append('g')
    .attr('transform', 'translate(0,' + p.bottom + ')')
    .call(d3.axisBottom(x).tickValues(saaTicks).tickSize(4.9).tickPadding(4.5).tickFormat(d3.format('d')));

  var yAxis = g.append('g')
    .attr('transform', 'translate(' + x(0) + ',0)')
    .call(d3.axisLeft(y).tickValues(p.ticks).tickSize(4.9).tickPadding(4.5).tickFormat(d3.format(p.format)));

  [xAxis, yAxis].forEach(function(a) {
    a.select('.domain').remove();
    a.selectAll('text')
      .style('font-size', fontSize + 'px')
      .style('font-family', '"DejaVu Sans", sans-serif')
      .attr('fill', '#000');
    a.selectAll('line').attr('stroke', '#000').attr('stroke-width', 0.8);
  });

  // frame
  g.append('rect')
    .attr('x', x(0)).attr('y', p.top)
    .attr('width', x(180) - x(0)).attr('height', p.bottom - p.top)
    .attr('fill', 'none').attr('stroke', '#000').attr('stroke-width', 0.8);

  // x label
  g.append('text')
    .attr('x', (x(0) + x(180)) / 2)
    .attr('y', p.bottom + 47)
    .attr('text-anchor', 'middle')
    .style('font-size', fontSize + 'px')
    .text('SAA (deg)');

  // y label
  var yl = g.append('text')
    .attr('transform', 'translate(20,' + ((p.top + p.bottom) / 2) + ') rotate(-90)')
    .attr('text-anchor', 'middle')
    .attr('dominant-baseline', 'central')
    .style('font-size', fontSize + 'px');
  p.yLabel(yl);

  // legend
  var lg = g.append('g').attr('transform', 'translate(96,' + (p.top + 10) + ')');
  lg.append('rect')
    .attr('width', 508).attr('height', 62)
    .attr('rx', 3).attr('ry', 3)
    .attr('fill', '#fff').attr('fill-opacity', 0.8)
    .attr('stroke', '#d6d6d6').attr('stroke-width', 1);
  var colors = ['#0000ff', '#ff0000'];
  legendLabels.forEach(function(lab, i) {
    lg.append('circle')
      .attr('cx', 27).attr('cy', 16 + i * 29)
      .attr('r', 2.5)
      .attr('fill', colors[i]);
    lg.append('text')
      .attr('x', 63).attr('y', 16 + i * 29)
      .attr('dominant-baseline', 'central')
      .style('font-size', fontSize + 'px')
      .text(lab);
  });
}

function sigmaTspans(t, letter) {
  t.append('tspan').style('font-style', 'italic').text('σ');
  t.append('tspan').attr('dy', 4).style('font-size', '11.7px').text(letter);
}

drawPanel({
  top: 11, bottom: 307,
  domain: [0.957, 2.5],
  ticks: ratioTicks, format: '.2f',
  orig: ratioOrig, single: ratioSingle,
  origMean: ratioOrigMean, singleMean: ratioSingleMean,
  yLabel: function(t) {
    sigmaTspans(t, 'A');
    t.append('tspan').attr('dy', -4).text('/');
    sigmaTspans(t, 'B');
  }
});

drawPanel({
  top: 378, bottom: 682,
  domain: [5.51, 21.02],
  ticks: sigmaTicks, format: '.1f',
  orig: sigmaOrig, single: sigmaSingle,
  origMean: sigmaOrigMean, singleMean: sigmaSingleMean,
  yLabel: function(t) {
    sigmaTspans(t, 'A');
    t.append('tspan').attr('dy', -4).text(' (pixels)');
  }
});
</script>
</body>
</html>
